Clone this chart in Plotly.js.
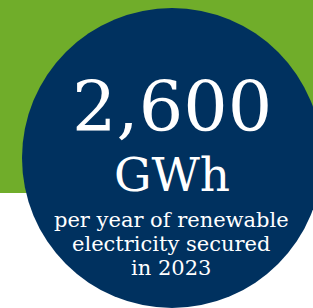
<!DOCTYPE html>
<html>
<head>
<meta charset="utf-8">
<script src="https://cdn.plot.ly/plotly-3.0.1.min.js"></script>
<style>html,body{margin:0;padding:0;background:#fff;}#chart{width:313px;height:308px;}</style>
</head>
<body>
<div id="chart"></div>
<script>
// Data
const headlineValue = ["2,600"];
const headlineUnit = ["GWh"];
const descriptionLines = ["per year of renewable", "electricity secured", "in 2023"];

const green = "#70AD2A";
const navy = "#00315F";
const fontFam = "DejaVu Serif, serif";

const annotations = [];
annotations.push({x: 172, y: 107, xref: "x", yref: "y", text: headlineValue[0], showarrow: false,
  xanchor: "center", yanchor: "middle", font: {family: fontFam, size: 70, color: "#fff"}});
annotations.push({x: 172, y: 174, xref: "x", yref: "y", text: headlineUnit[0], showarrow: false,
  xanchor: "center", yanchor: "middle", font: {family: fontFam, size: 47, color: "#fff"}});
const lineY = [220, 244, 268];
descriptionLines.forEach((t, i) => {
  annotations.push({x: 171, y: lineY[i], xref: "x", yref: "y", text: t, showarrow: false,
    xanchor: "center", yanchor: "middle", font: {family: fontFam, size: 21, color: "#fff"}});
});

const layout = {
  width: 313, height: 308,
  margin: {l: 0, r: 0, t: 0, b: 0},
  paper_bgcolor: "#fff", plot_bgcolor: "#fff",
  showlegend: false,
  xaxis: {range: [0, 313], visible: false, fixedrange: true},
  yaxis: {range: [308, 0], visible: false, fixedrange: true},
  shapes: [
    {type: "rect", xref: "x", yref: "y", x0: 0, x1: 313, y0: 0, y1: 193, fillcolor: green, line: {width: 0}, layer: "below"},
    {type: "circle", xref: "x", yref: "y", x0: 22, x1: 322, y0: 8, y1: 308, fillcolor: navy, line: {width: 0}, layer: "below"}
  ],
  annotations: annotations
};
Plotly.newPlot("chart", [{x: [], y: [], type: "scatter"}], layout, {displayModeBar: false, staticPlot: true});
</script>
</body>
</html>
